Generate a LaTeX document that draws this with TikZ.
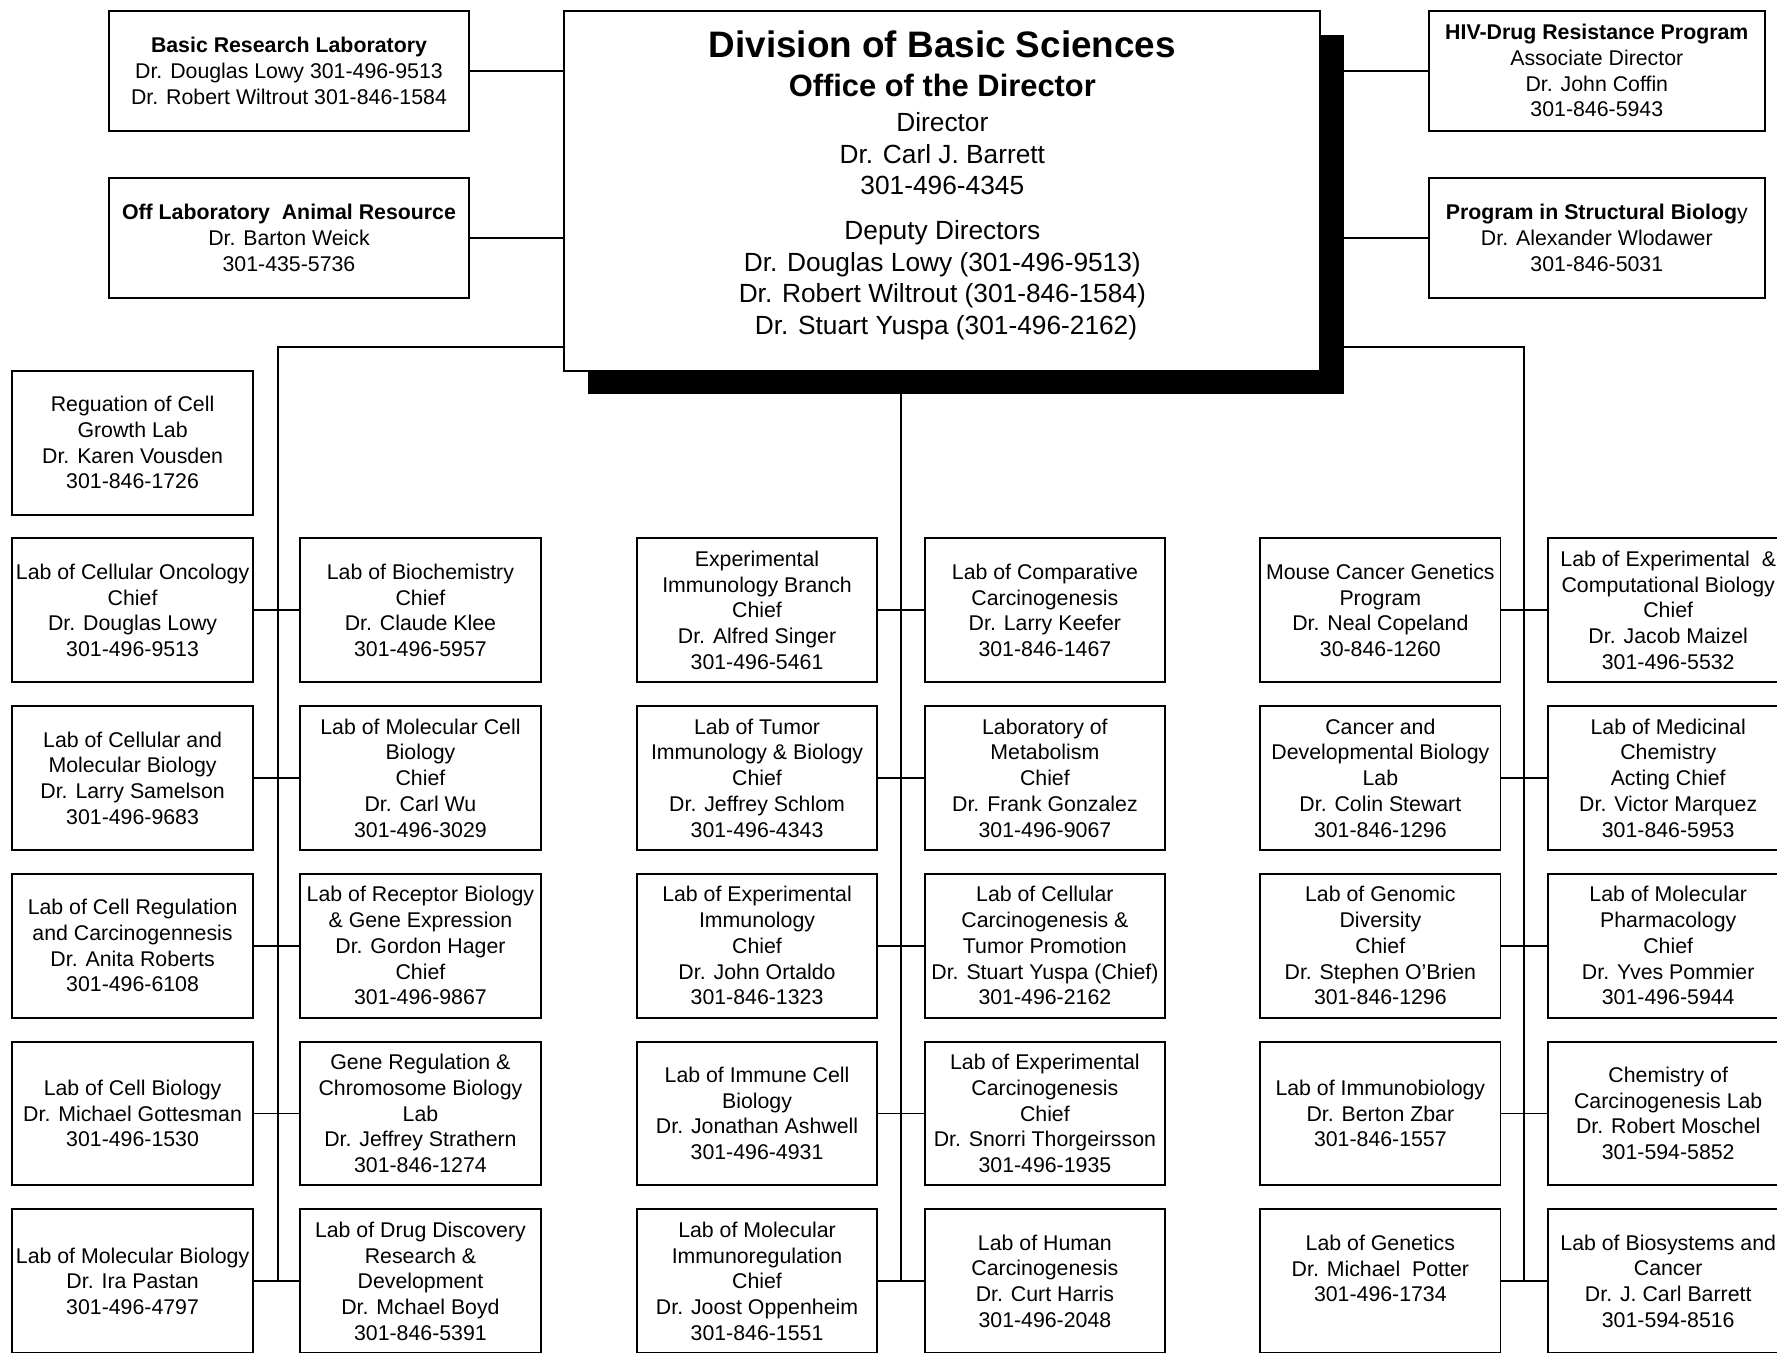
\documentclass[tikz,border=0pt]{standalone}
\usepackage{fontspec}
\setmainfont{Liberation Sans}
\usetikzlibrary{positioning}

\newcommand{\labfont}{\fontsize{10.7}{12.9}\selectfont}
\newcommand{\dirfont}{\fontsize{13.2}{16}\selectfont}

\begin{document}
\begin{tikzpicture}[x=0.2mm, y=-0.2mm]
  \tikzset{
    labbox/.style={
      rectangle,
      draw,
      line width=1pt,
      align=center,
      minimum width=42.4mm, % one lab box
      minimum height=25.4mm,
      inner sep=0pt,
      outer sep=0pt,
      font=\labfont,
    },
    sidebox/.style={labbox, minimum width=63.6mm, minimum height=21.1mm},
    dirbox/.style={rectangle, draw, fill=white, line width=1pt, minimum width=133.4mm, minimum height=63.4mm, inner sep=0pt, outer sep=0pt},
    shadowbox/.style={rectangle, fill=black, minimum width=133.4mm, minimum height=63.4mm, inner sep=0pt, outer sep=0pt},
    dirtext/.style={align=center, inner sep=0pt, font=\dirfont},
    link/.style={line width=0.9pt},
    node distance=4.2mm,
  }
  \useasboundingbox (0,0) rectangle (1568,1193);
  \clip (0,0) rectangle (1568,1193);

  % office of the director
  \node[shadowbox] (dbsshadow) at (852.5,189.5) {};
  \node[dirbox] (dbs) at (831.5,168.5) {};
  \node[dirtext, anchor=north] (dbstext) at (831.5,27) {%
    {\fontsize{18.5}{21}\selectfont\bfseries Division of Basic Sciences}\\[3.3pt]
    {\fontsize{15.5}{18}\selectfont\bfseries Office of the Director}\\[1.6pt]
    Director\\ Dr. Carl J. Barrett\\ 301-496-4345\\[6.2pt]
    Deputy Directors\\ Dr. Douglas Lowy (301-496-9513)\\ Dr. Robert Wiltrout (301-846-1584)\\ \ Dr. Stuart Yuspa (301-496-2162)};

  % staff offices
  \node[sidebox] (brl) at (255,62.5) {\textbf{Basic Research Laboratory}\\ Dr. Douglas Lowy 301-496-9513\\ Dr. Robert Wiltrout 301-846-1584};
  \node[sidebox] (olar) at (255,210) {\textbf{Off Laboratory\ \ Animal Resource}\\ Dr. Barton Weick\\ 301-435-5736};
  \node[sidebox, minimum width=59.2mm] (hiv) at (1409,62.5) {\textbf{HIV-Drug Resistance Program}\\ Associate Director\\ Dr. John Coffin\\ 301-846-5943};
  \node[sidebox, minimum width=59.2mm] (psb) at (1409,210) {\textbf{Program in Structural Biolog}y\\ Dr. Alexander Wlodawer\\ 301-846-5031};

  \draw[link] (brl) -- (brl -| dbs.west);
  \draw[link] (olar) -- (olar -| dbs.west);
  \draw[link] (hiv) -- (hiv -| dbsshadow.east);
  \draw[link] (psb) -- (psb -| dbsshadow.east);

  % first row
  \node[labbox] (c1r1) at (117,538.5) {Lab of Cellular Oncology\\ Chief\\ Dr. Douglas Lowy\\ 301-496-9513};
  \node[labbox] (c2r1) at (371,538.5) {Lab of Biochemistry\\ Chief\\ Dr. Claude Klee\\ 301-496-5957};
  \node[labbox] (c3r1) at (668,538.5) {Experimental\\ Immunology Branch\\ Chief\\ Dr. Alfred Singer\\ 301-496-5461};
  \node[labbox] (c4r1) at (922,538.5) {Lab of Comparative\\ Carcinogenesis\\ Dr. Larry Keefer\\ 301-846-1467};
  \node[labbox] (c5r1) at (1218,538.5) {Mouse Cancer Genetics\\ Program\\ Dr. Neal Copeland\\ 30-846-1260};
  \node[labbox] (c6r1) at (1472,538.5) {Lab of Experimental\ \ \&\\ Computational Biology\\ Chief\\ Dr. Jacob Maizel\\ 301-496-5532};

  \node[labbox, above=of c1r1] (c1r0) {Reguation of Cell\\ Growth Lab\\ Dr. Karen Vousden\\ 301-846-1726};

  % second row
  \node[labbox, below=of c1r1] (c1r2) {Lab of Cellular and\\ Molecular Biology\\ Dr. Larry Samelson\\ 301-496-9683};
  \node[labbox, below=of c2r1] (c2r2) {Lab of Molecular Cell\\ Biology\\ Chief\\ Dr. Carl Wu\\ 301-496-3029};
  \node[labbox, below=of c3r1] (c3r2) {Lab of Tumor\\ Immunology \& Biology\\ Chief\\ Dr. Jeffrey Schlom\\ 301-496-4343};
  \node[labbox, below=of c4r1] (c4r2) {Laboratory of\\ Metabolism\\ Chief\\ Dr. Frank Gonzalez\\ 301-496-9067};
  \node[labbox, below=of c5r1] (c5r2) {Cancer and\\ Developmental Biology\\ Lab\\ Dr. Colin Stewart\\ 301-846-1296};
  \node[labbox, below=of c6r1] (c6r2) {Lab of Medicinal\\ Chemistry\\ Acting Chief\\ Dr. Victor Marquez\\ 301-846-5953};

  % third row
  \node[labbox, below=of c1r2] (c1r3) {Lab of Cell Regulation\\ and Carcinogennesis\\ Dr. Anita Roberts\\ 301-496-6108};
  \node[labbox, below=of c2r2] (c2r3) {Lab of Receptor Biology\\ \& Gene Expression\\ Dr. Gordon Hager\\ Chief\\ 301-496-9867};
  \node[labbox, below=of c3r2] (c3r3) {Lab of Experimental\\ Immunology\\ Chief\\ Dr. John Ortaldo\\ 301-846-1323};
  \node[labbox, below=of c4r2] (c4r3) {Lab of Cellular\\ Carcinogenesis \&\\ Tumor Promotion\\ Dr. Stuart Yuspa (Chief)\\ 301-496-2162};
  \node[labbox, below=of c5r2] (c5r3) {Lab of Genomic\\ Diversity\\ Chief\\ Dr. Stephen O'Brien\\ 301-846-1296};
  \node[labbox, below=of c6r2] (c6r3) {Lab of Molecular\\ Pharmacology\\ Chief\\ Dr. Yves Pommier\\ 301-496-5944};

  % fourth row
  \node[labbox, below=of c1r3] (c1r4) {Lab of Cell Biology\\ Dr. Michael Gottesman\\ 301-496-1530};
  \node[labbox, below=of c2r3] (c2r4) {Gene Regulation \&\\ Chromosome Biology\\ Lab\\ Dr. Jeffrey Strathern\\ 301-846-1274};
  \node[labbox, below=of c3r3] (c3r4) {Lab of Immune Cell\\ Biology\\ Dr. Jonathan Ashwell\\ 301-496-4931};
  \node[labbox, below=of c4r3] (c4r4) {Lab of Experimental\\ Carcinogenesis\\ Chief\\ Dr. Snorri Thorgeirsson\\ 301-496-1935};
  \node[labbox, below=of c5r3] (c5r4) {Lab of Immunobiology\\ Dr. Berton Zbar\\ 301-846-1557};
  \node[labbox, below=of c6r3] (c6r4) {Chemistry of\\ Carcinogenesis Lab\\ Dr. Robert Moschel\\ 301-594-5852};

  % fifth row
  \node[labbox, below=of c1r4] (c1r5) {Lab of Molecular Biology\\ Dr. Ira Pastan\\ 301-496-4797};
  \node[labbox, below=of c2r4] (c2r5) {Lab of Drug Discovery\\ Research \&\\ Development\\ Dr. Mchael Boyd\\ 301-846-5391};
  \node[labbox, below=of c3r4] (c3r5) {Lab of Molecular\\ Immunoregulation\\ Chief\\ Dr. Joost Oppenheim\\ 301-846-1551};
  \node[labbox, below=of c4r4] (c4r5) {Lab of Human\\ Carcinogenesis\\ Dr. Curt Harris\\ 301-496-2048};
  \node[labbox, below=of c5r4] (c5r5) {Lab of Genetics\\ Dr. Michael\ \ Potter\\ 301-496-1734\\ \mbox{}};
  \node[labbox, below=of c6r4] (c6r5) {Lab of Biosystems and\\ Cancer\\ Dr. J. Carl Barrett\\ 301-594-8516};

  % buses
  \coordinate (lbustop) at (245,306);
  \coordinate (rbustop) at (1345,306);
  \coordinate (lbusend) at (lbustop |- c1r5);
  \coordinate (cbusend) at (795,1131.5);
  \coordinate (rbusend) at (rbustop |- c5r5);
  \draw[link] (lbustop -| dbs.west) -- (lbustop) -- (lbusend);
  \draw[link] (cbusend |- dbsshadow.south) -- (cbusend);
  \draw[link] (rbustop -| dbsshadow.east) -- (rbustop) -- (rbusend);

  \draw[link] (c1r1) -- (c2r1);  \draw[link] (c3r1) -- (c4r1);  \draw[link] (c5r1) -- (c6r1);
  \draw[link] (c1r2) -- (c2r2);  \draw[link] (c3r2) -- (c4r2);  \draw[link] (c5r2) -- (c6r2);
  \draw[link] (c1r3) -- (c2r3);  \draw[link] (c3r3) -- (c4r3);  \draw[link] (c5r3) -- (c6r3);
  \draw[link] (c1r4) -- (c2r4);  \draw[link] (c3r4) -- (c4r4);  \draw[link] (c5r4) -- (c6r4);
  \draw[link] (c1r5) -- (c2r5);  \draw[link] (c3r5) -- (c4r5);  \draw[link] (c5r5) -- (c6r5);
\end{tikzpicture}
\end{document}
